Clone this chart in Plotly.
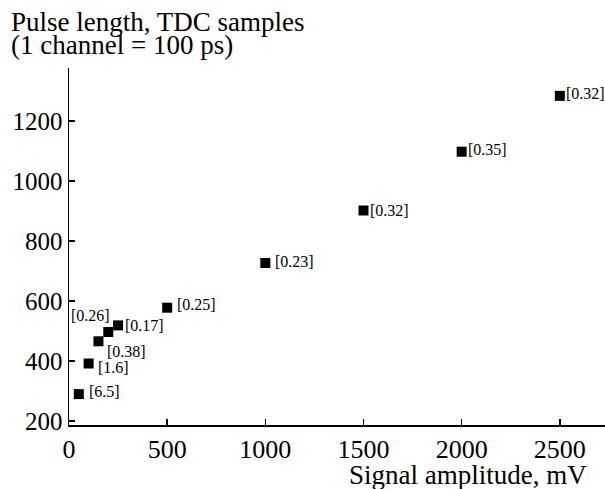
import plotly.graph_objects as go

amplitude_mv = [50, 100, 150, 200, 250, 500, 1000, 1500, 2000, 2500]
pulse_length = [290, 392, 466, 497, 519, 578, 727, 902, 1098, 1284]
labels = ["[6.5]", "[1.6]", "[0.38]", "[0.26]", "[0.17]", "[0.25]", "[0.23]", "[0.32]", "[0.35]", "[0.32]"]
x_ticks = [0, 500, 1000, 1500, 2000, 2500]
y_ticks = [200, 400, 600, 800, 1000, 1200]

# label offsets (pixels) relative to each marker
label_dx = [9, 8, 8, -38, 6, 9, 9, 5, 5, 5]
label_dy = [3, -4, -10, 17, 0, 3, 2, 0, 2, 2]

FONT = "Liberation Serif, Times New Roman, serif"

fig = go.Figure()
fig.add_trace(go.Scatter(
    x=amplitude_mv, y=pulse_length, mode="markers",
    marker=dict(symbol="square", size=10, color="black"),
    showlegend=False, cliponaxis=False, hoverinfo="skip",
))

for x, y, t, dx, dy in zip(amplitude_mv, pulse_length, labels, label_dx, label_dy):
    fig.add_annotation(x=x, y=y, text=t, showarrow=False, xanchor="left",
                       xshift=dx, yshift=dy, borderpad=0,
                       font=dict(family=FONT, size=16, color="black"))

fig.add_annotation(xref="paper", yref="paper", x=1, y=0, xanchor="right", yanchor="middle",
                   xshift=-16, yshift=-50, text="Signal amplitude, mV", showarrow=False,
                   font=dict(family=FONT, size=27, color="black"))
fig.add_annotation(xref="paper", yref="paper", x=0, y=1, xanchor="left", yanchor="middle",
                   xshift=-60, yshift=46, text="Pulse length, TDC samples", showarrow=False,
                   font=dict(family=FONT, size=27, color="black"))
fig.add_annotation(xref="paper", yref="paper", x=0, y=1, xanchor="left", yanchor="middle",
                   xshift=-60, yshift=23, text="(1 channel = 100 ps)", showarrow=False,
                   font=dict(family=FONT, size=27, color="black"))

fig.update_layout(
    width=605, height=489,
    margin=dict(l=69, r=0, t=68, b=64),
    paper_bgcolor="white", plot_bgcolor="white",
    font=dict(family=FONT, size=25, color="black"),
    xaxis=dict(range=[0, 2730], tickvals=x_ticks, ticks="inside", ticklen=6, tickwidth=1.5,
               tickcolor="black", showline=True, linecolor="black", linewidth=1.5,
               showgrid=False, zeroline=False, automargin=False,
               tickfont=dict(family=FONT, size=26)),
    yaxis=dict(range=[187, 1377], tickvals=y_ticks, ticks="inside", ticklen=6, tickwidth=1.5,
               tickcolor="black", showline=True, linecolor="black", linewidth=1.5,
               showgrid=False, zeroline=False, automargin=False,
               tickfont=dict(family=FONT, size=25)),
)

fig.write_html("out.html", config={"displayModeBar": False, "staticPlot": True},
               post_script="document.body.style.margin='0';document.body.style.overflow='hidden';")
